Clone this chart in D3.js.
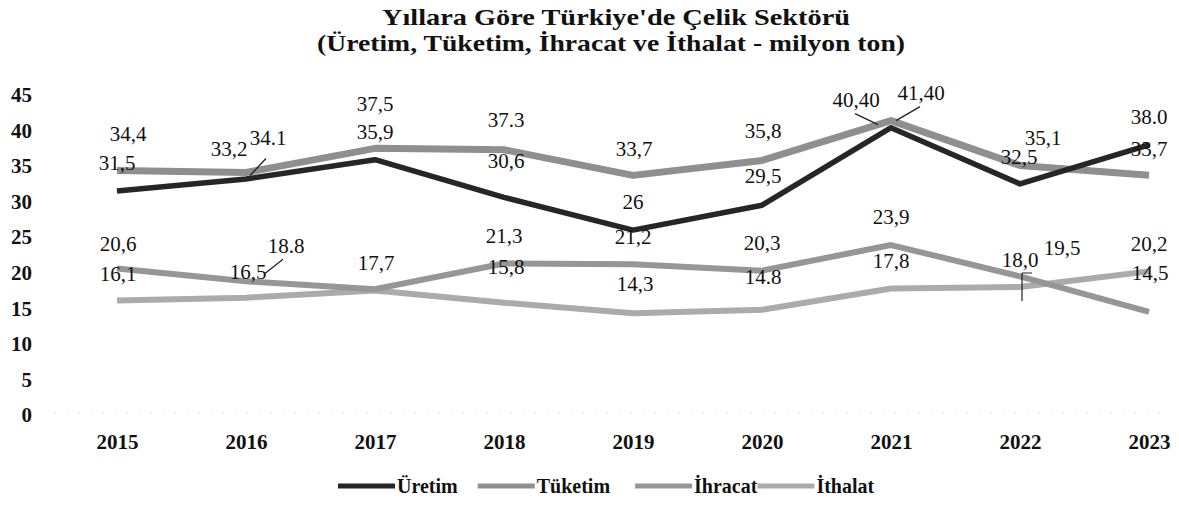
<!DOCTYPE html>
<html lang="tr">
<head>
<meta charset="utf-8">
<script src="https://cdn.jsdelivr.net/npm/d3@7"></script>
<style>
  html, body { margin: 0; padding: 0; background: #fff; }
  svg { display: block; }
</style>
</head>
<body>
<svg id="chart" width="1179" height="506"></svg>
<script>
// Yıllara göre Türkiye çelik sektörü (milyon ton)
const years = [2015, 2016, 2017, 2018, 2019, 2020, 2021, 2022, 2023];
const uretim  = [31.5, 33.2, 35.9, 30.6, 26.0, 29.5, 40.4, 32.5, 38.0];
const tuketim = [34.4, 34.1, 37.5, 37.3, 33.7, 35.8, 41.4, 35.1, 33.7];
const ihracat = [20.6, 18.8, 17.7, 21.3, 21.2, 20.3, 23.9, 19.5, 14.5];
const ithalat = [16.1, 16.5, 17.5, 15.8, 14.3, 14.8, 17.8, 18.0, 20.2];
const yTicks = [0, 5, 10, 15, 20, 25, 30, 35, 40, 45];
const seriesNames = ["Üretim", "Tüketim", "İhracat", "İthalat"];
const titleLines = ["Yıllara  Göre Türkiye'de Çelik Sektörü",
                    "(Üretim, Tüketim, İhracat ve İthalat - milyon ton)"];

// label number formats per point: decimal separator + digits ("" = no label)
const uretimFmt  = [",1", ",1", ",1", ",1", ",0", ",1", ",2", ",1", ".1"];
const tuketimFmt = [",1", ".1", ",1", ".1", ",1", ",1", ",2", ",1", ",1"];
const ihracatFmt = [",1", ".1", ",1", ",1", ",1", ",1", ",1", ",1", ",1"];
const ithalatFmt = [",1", ",1", "",   ",1", ",1", ".1", ",1", ",1", ",1"];

// hand-placed label nudges [dx, dy] relative to the point (default: centred 28px above)
const labelNudge = {
  "Üretim":  {2016: [-17, -30], 2018: [2, -37], 2020: [1, -30], 2021: [-35, -28], 2022: [-1, -27]},
  "Tüketim": {2015: [11, -37], 2016: [22, -35], 2017: [0, -45], 2018: [2, -30], 2019: [1, -27], 2020: [1, -30], 2021: [30, -28], 2022: [23, -28], 2023: [0, -27]},
  "İhracat": {2015: [1, -25], 2016: [40, -36], 2017: [1, -26], 2022: [42, -29], 2023: [1, -39]},
  "İthalat": {2015: [1, -27], 2016: [2, -26], 2018: [2, -36], 2019: [2, -30], 2020: [1, -33], 2022: [0, -27]}
};

const styles = {
  "Üretim":  {color: "#262626", width: 5.5},
  "Tüketim": {color: "#8f8f8f", width: 7},
  "İhracat": {color: "#969696", width: 6},
  "İthalat": {color: "#ababab", width: 6}
};

const series = [
  {name: seriesNames[0], values: uretim,  fmt: uretimFmt},
  {name: seriesNames[1], values: tuketim, fmt: tuketimFmt},
  {name: seriesNames[2], values: ihracat, fmt: ihracatFmt},
  {name: seriesNames[3], values: ithalat, fmt: ithalatFmt}
];

const FONT = "'Liberation Serif', 'Times New Roman', serif";
const svg = d3.select("#chart");

const x = d3.scalePoint().domain(years).range([117, 1149]);
const y = d3.scaleLinear().domain([0, 45]).range([415, 95]);

// title: heavy, wide serif lines
const titleLayout = [{cx: 616, base: 25, width: 468}, {cx: 611, base: 51, width: 588}];
svg.append("g").selectAll("text").data(titleLines).join("text")
  .attr("x", (d, i) => titleLayout[i].cx)
  .attr("y", (d, i) => titleLayout[i].base)
  .attr("text-anchor", "middle")
  .attr("font-family", FONT)
  .attr("font-weight", "bold")
  .attr("font-size", 23)
  .attr("textLength", (d, i) => titleLayout[i].width)
  .attr("lengthAdjust", "spacingAndGlyphs")
  .attr("fill", "#111")
  .text(d => d);

// value axis (labels only)
const yAxis = d3.axisLeft(y).tickValues(yTicks).tickSize(0).tickPadding(0);
const gy = svg.append("g").attr("transform", "translate(32,0)").call(yAxis);
gy.select(".domain").remove();
gy.selectAll("text")
  .attr("font-family", FONT).attr("font-weight", "bold")
  .attr("font-size", 21).attr("fill", "#111");

// category axis with faint dotted baseline
const xAxis = d3.axisBottom(x).tickSize(0).tickPadding(0);
const gx = svg.append("g").attr("transform", `translate(0,${y(0)})`).call(xAxis);
gx.select(".domain").remove();
gx.selectAll("text")
  .attr("y", 27).attr("dy", "0.35em")
  .attr("font-family", FONT).attr("font-weight", "bold")
  .attr("font-size", 21).attr("fill", "#111");
svg.append("line")
  .attr("x1", 55).attr("x2", 1165)
  .attr("y1", y(0) - 2).attr("y2", y(0) - 2)
  .attr("stroke", "#c4c4c4").attr("stroke-width", 1)
  .attr("stroke-dasharray", "1 11");

// series lines (production drawn last, on top)
const line = d3.line().x((d, i) => x(years[i])).y(d => y(d));
const drawOrder = [3, 2, 1, 0];
svg.append("g").selectAll("path").data(drawOrder.map(i => series[i])).join("path")
  .attr("d", s => line(s.values))
  .attr("fill", "none")
  .attr("stroke", s => styles[s.name].color)
  .attr("stroke-width", s => styles[s.name].width)
  .attr("stroke-linejoin", "round")
  .attr("stroke-linecap", "butt");

// value labels
function labelText(v, code) {
  const digits = +code.slice(1);
  const s = d3.format(`.${digits}f`)(v);
  return code[0] === "," ? s.replace(".", ",") : s;
}
const labels = [];
series.forEach(s => {
  s.values.forEach((v, i) => {
    const code = s.fmt[i];
    if (!code) return;
    const nudge = (labelNudge[s.name] || {})[years[i]] || [0, -28];
    labels.push({x: x(years[i]) + nudge[0], y: y(v) + nudge[1], text: labelText(v, code)});
  });
});
svg.append("g").selectAll("text").data(labels).join("text")
  .attr("x", d => d.x).attr("y", d => d.y).attr("dy", "0.35em")
  .attr("text-anchor", "middle")
  .attr("font-family", FONT).attr("font-size", 21).attr("fill", "#111")
  .text(d => d.text);

// leader lines joining displaced labels to their points
const leaders = [
  {s: 1, i: 1, from: [4, 3], to: [20, -14]},
  {s: 2, i: 1, from: [18, -7], to: [37, -22]},
  {s: 0, i: 6, from: [-13, -3], to: [-36, -14]},
  {s: 1, i: 6, from: [5, 0], to: [29, -14]}
];
svg.append("g").selectAll("line").data(leaders).join("line")
  .attr("x1", d => x(years[d.i]) + d.from[0]).attr("y1", d => y(series[d.s].values[d.i]) + d.from[1])
  .attr("x2", d => x(years[d.i]) + d.to[0]).attr("y2", d => y(series[d.s].values[d.i]) + d.to[1])
  .attr("stroke", "#222").attr("stroke-width", 1.3);
// bracket for the 2022 import label
{
  const bx = x(2022) + 2, by = y(ithalat[7]);
  svg.append("path")
    .attr("d", `M${bx},${by - 14} L${bx},${by + 14} M${bx},${by - 14} L${bx + 10},${by - 14}`)
    .attr("fill", "none").attr("stroke", "#222").attr("stroke-width", 1.2);
}

// legend
const legend = svg.append("g").attr("transform", "translate(0,486)");
let lx = 338;
const gaps = [20, 25, 0];
series.forEach((s, i) => {
  legend.append("line")
    .attr("x1", lx).attr("x2", lx + 57).attr("y1", 0).attr("y2", 0)
    .attr("stroke", styles[s.name].color).attr("stroke-width", 5);
  const t = legend.append("text")
    .attr("x", lx + 59).attr("y", 0).attr("dy", "0.35em")
    .attr("font-family", FONT).attr("font-weight", "bold")
    .attr("font-size", 20).attr("fill", "#111")
    .text(s.name);
  lx += 59 + t.node().getComputedTextLength() + (gaps[i] || 0);
});
</script>
</body>
</html>
